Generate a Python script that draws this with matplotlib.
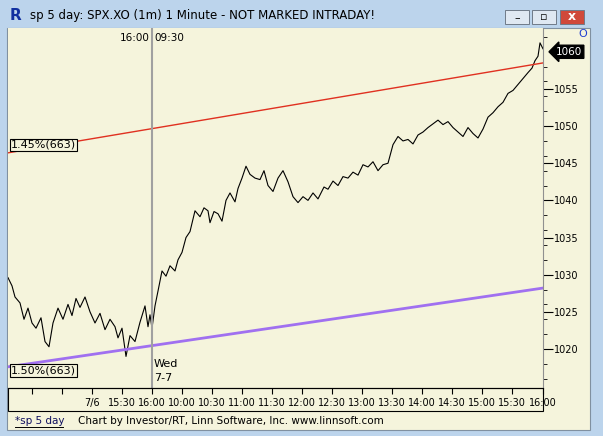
import matplotlib
matplotlib.use("Agg")
import matplotlib.pyplot as plt
from matplotlib.patches import Rectangle

# minute index (0 = left edge of chart) and price
minutes = [0,4,7,12,16,20,24,28,33,37,41,45,50,55,60,64,68,72,77,82,87,92,97,102,107,110,114,118,122,127,132,137,140,142,
           144,147,150,154,158,162,167,170,174,178,182,187,192,196,200,202,206,210,214,218,222,227,230,234,238,242,247,252,256,
           260,265,270,275,280,285,290,295,300,305,310,316,320,325,330,335,340,345,350,355,360,365,370,375,380,385,390,395,
           400,405,410,415,420,425,430,435,440,445,450,455,460,465,470,475,480,485,490,495,500,505,510,515,520,524,527,530,532,535]
prices = [1029.6,1028.5,1027.0,1026.2,1024.0,1025.5,1023.5,1022.8,1024.2,1021.0,1020.3,1023.5,1025.5,1024.0,1026.0,1024.5,1026.8,1025.6,1027.0,1025.0,1023.5,1024.8,1022.6,1024.0,1023.0,1021.5,1022.8,1019.0,1021.8,1021.0,1023.6,1025.8,1023.0,1024.6,
          1022.8,1025.8,1027.8,1030.5,1029.8,1031.2,1030.5,1032.0,1033.0,1035.0,1035.8,1038.6,1037.8,1039.0,1038.6,1037.0,1038.5,1038.2,1037.2,1040.0,1041.0,1039.8,1041.6,1043.0,1044.6,1043.5,1043.0,1042.8,1044.0,
          1042.0,1041.2,1043.0,1044.0,1042.5,1040.5,1039.7,1040.5,1040.0,1041.0,1040.2,1041.8,1041.5,1042.6,1042.0,1043.2,1043.0,1043.8,1043.4,1044.8,1044.5,1045.2,1044.0,1044.8,1045.0,1047.5,1048.6,1048.0,
          1048.2,1047.6,1048.8,1049.2,1049.8,1050.3,1050.8,1050.2,1050.6,1049.8,1049.2,1048.6,1049.8,1049.0,1048.4,1049.6,1051.2,1051.8,1052.6,1053.2,1054.4,1054.8,1055.6,1056.4,1057.2,1057.8,1058.8,1059.4,1061.2,1060.4]

line_x = [0, 535]
red_line = [1046.4, 1058.5]
purple_line = [1017.6, 1028.2]

tick_pos = [24, 54, 84, 114, 144, 174, 204, 234, 264, 294, 324, 354, 384, 414, 444, 474, 504, 535]
tick_lab = ["", "", "7/6", "15:30", "16:00", "10:00", "10:30", "11:00", "11:30", "12:00", "12:30", "13:00",
            "13:30", "14:00", "14:30", "15:00", "15:30", "16:00"]
price_ticks = [1020, 1025, 1030, 1035, 1040, 1045, 1050, 1055]

W, H = 603, 436
fig = plt.figure(figsize=(W/100, H/100), dpi=100)
fig.patch.set_facecolor("#bcd4ec")
def fx(x): return x / W
def fy(y): return 1 - y / H

# inner panel
fig.patches.append(Rectangle((fx(7), fy(430)), fx(583), (430-28)/H, transform=fig.transFigure,
                             facecolor="#f5f4dc", edgecolor="#8090a0", lw=0.8, zorder=-10))
fig.text(fx(30), fy(16), "sp 5 day: SPX.XO (1m) 1 Minute - NOT MARKED INTRADAY!", fontsize=8.5,
         va="center", ha="left", family="DejaVu Sans")
fig.text(fx(10), fy(16), "R", fontsize=11, weight="bold", color="#1030a0", va="center")
for x0, c in [(505, "#dfe8f2"), (532, "#dfe8f2"), (560, "#d0493a")]:
    fig.patches.append(Rectangle((fx(x0), fy(24)), fx(24), 14/H, transform=fig.transFigure,
                                 facecolor=c, edgecolor="#707a88", lw=0.7))
fig.text(fx(572), fy(17), "x", color="white", weight="bold", fontsize=9, ha="center", va="center")
fig.text(fx(517), fy(18), "–", fontsize=8, ha="center", va="center")
fig.text(fx(544), fy(17), "▫", fontsize=8, ha="center", va="center")

ax = fig.add_axes([fx(8), fy(388), fx(535), (388-28)/H])
ax.set_facecolor("#f5f4dc")
ax.set_xlim(0, 535)
ax.set_ylim(1014.75, 1063.2)
ax.plot(minutes, prices, color="black", lw=0.8)
ax.plot(line_x, red_line, color="#e03020", lw=1)
ax.plot(line_x, purple_line, color="#a070f0", lw=2)
ax.axvline(144, color="#a0a0a0", lw=1.5)
ax.text(142, 1061.8, "16:00", ha="right", va="center", fontsize=7.5)
ax.text(146, 1061.8, "09:30", ha="left", va="center", fontsize=7.5)
ax.text(146, 1015.4, "Wed\n7-7", ha="left", va="bottom", fontsize=8, linespacing=1.5)
ax.text(3, 1047.5, "1.45%(663)", fontsize=8, va="center",
        bbox=dict(boxstyle="square,pad=0.1", fc="#f5f4dc", ec="black", lw=0.8))
ax.text(3, 1017.1, "1.50%(663)", fontsize=8, va="center",
        bbox=dict(boxstyle="square,pad=0.1", fc="#f5f4dc", ec="black", lw=0.8))
for s in ["top", "left"]:
    ax.spines[s].set_visible(False)
ax.spines["right"].set_color("#909090")
ax.yaxis.tick_right()
ax.set_yticks(price_ticks)
ax.set_yticklabels([str(p) for p in price_ticks], fontsize=7)
ax.set_yticks([1016, 1018, 1022, 1024, 1026, 1028, 1032, 1034, 1036, 1038, 1042, 1044, 1046, 1048,
               1052, 1054, 1056, 1058, 1062], minor=True)
ax.tick_params(axis="y", which="major", length=7, direction="out", pad=1)
ax.tick_params(axis="y", which="minor", length=3, direction="out")
ax.set_xticks(tick_pos)
ax.set_xticklabels(tick_lab, fontsize=7)
ax.tick_params(axis="x", length=4, direction="out", pad=3)
ax.text(548, 1060, "1060", fontsize=7.5, color="white", va="center", ha="left", transform=ax.transData,
        clip_on=False, bbox=dict(boxstyle="larrow,pad=0.15", fc="black", ec="black"))
fig.text(fx(583), fy(34), "O", color="#2040d0", fontsize=8, ha="center", va="center")

fig.patches.append(Rectangle((fx(8), fy(411)), fx(535), 23/H, transform=fig.transFigure,
                             facecolor="none", edgecolor="black", lw=0.8))
fig.text(fx(15), fy(421), "*sp 5 day", fontsize=7.5, va="center", color="#101060")
fig.add_artist(plt.Line2D([fx(15), fx(63)], [fy(427), fy(427)], transform=fig.transFigure, color="black", lw=0.7))
fig.text(fx(78), fy(421), "Chart by Investor/RT, Linn Software, Inc. www.linnsoft.com", fontsize=7.5, va="center")

fig.savefig("out.png", dpi=100, facecolor=fig.get_facecolor())
